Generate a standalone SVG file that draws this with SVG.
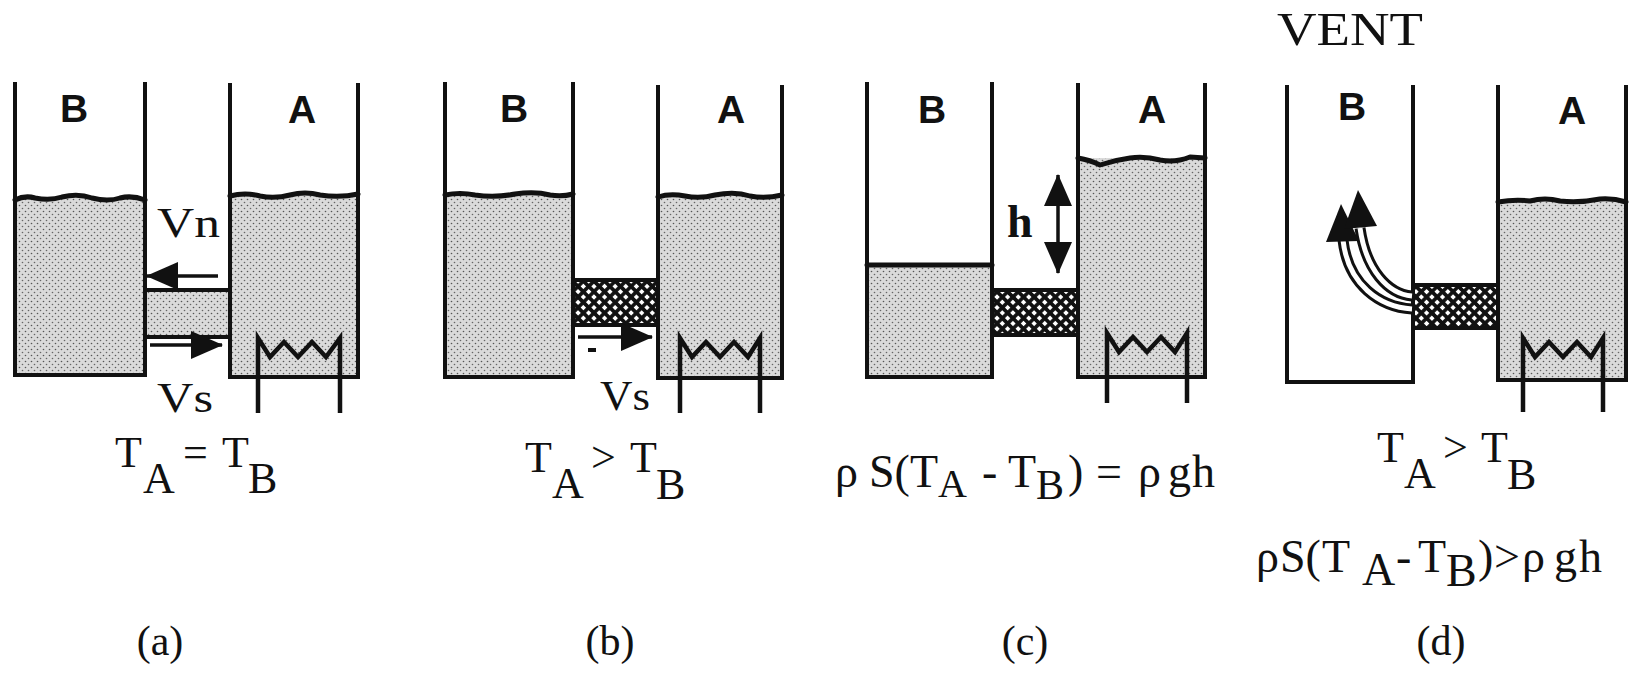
<svg xmlns="http://www.w3.org/2000/svg" width="1632" height="675" viewBox="0 0 1632 675">
<style>
.wall{fill:none;stroke:#111;stroke-width:4;stroke-linejoin:miter}
.surf{fill:none;stroke:#111;stroke-width:5;stroke-linejoin:round;stroke-linecap:round}
.liq{fill:url(#stip)}
.mesh{fill:url(#hatch)}
.edge{stroke:#111;stroke-width:4}
.heat{fill:none;stroke:#111;stroke-width:4.5;stroke-linejoin:miter}
.lbl{font-family:"Liberation Sans",Arial,sans-serif;font-weight:bold;font-size:39px;fill:#111}
.t{font-family:"Liberation Serif","Times New Roman",serif;fill:#111}
.arr{stroke:#111;stroke-width:3.5;fill:none}
.tube{fill:none;stroke:#111;stroke-width:11}
.tubein{fill:none;stroke:#fff;stroke-width:5}
</style>
<defs>
<pattern id="stip" width="6" height="6" patternUnits="userSpaceOnUse"><rect width="6" height="6" fill="#dadada"/><circle cx="1.5" cy="1.5" r="0.8" fill="#555"/><circle cx="4.5" cy="4.5" r="0.8" fill="#666"/></pattern>
<pattern id="hatch" width="7.5" height="7.5" patternUnits="userSpaceOnUse" patternTransform="rotate(45)"><rect width="7.5" height="7.5" fill="#fff"/><path d="M0 3.75H7.5M3.75 0V7.5" stroke="#111" stroke-width="3.6"/></pattern>
<marker id="ah" viewBox="0 0 32 28" refX="31" refY="14" markerWidth="32" markerHeight="28" markerUnits="userSpaceOnUse" orient="auto"><path d="M0 0L32 14L0 28z" fill="#111"/></marker>
</defs>
<rect width="1632" height="675" fill="#fff"/>

<g id="panel-a">
<rect class="liq" x="15" y="198" width="130" height="177"/>
<rect class="liq" x="230" y="195" width="128" height="182"/>
<rect class="liq" x="145" y="290" width="85" height="47"/>
<line class="edge" x1="145" y1="290" x2="230" y2="290"/>
<line class="edge" x1="145" y1="337" x2="230" y2="337"/>
<path class="surf" d="M15 200 Q25 195 35 198 Q50 201 62 197 Q78 193 92 198 Q108 202 120 198 Q132 195 145 200"/>
<path class="surf" d="M230 196 Q245 192 260 196 Q275 199 290 195 Q305 191 320 195 Q340 198 358 194"/>
<path class="wall" d="M15 82 V375 H145 V82"/>
<path class="wall" d="M230 83 V377 H358 V83"/>
<path class="heat" d="M258 413 V338 L270 357 L284 342 L298 357 L312 342 L326 357 L340 338 V413"/>
<text class="lbl" x="60" y="122">B</text>
<text class="lbl" x="288" y="123">A</text>
<text class="t" x="157" y="237" font-size="42" textLength="63" lengthAdjust="spacingAndGlyphs">Vn</text>
<text class="t" x="157" y="412" font-size="42" textLength="56" lengthAdjust="spacingAndGlyphs">Vs</text>
<text class="t" font-size="44"><tspan x="115" y="467">T</tspan><tspan x="143" y="493">A</tspan><tspan x="183" y="467">=</tspan><tspan x="222" y="467">T</tspan><tspan x="248" y="493">B</tspan></text>
<text class="t" x="160" y="655" font-size="42" text-anchor="middle">(a)</text>
</g>

<g id="panel-b">
<rect class="liq" x="445" y="194" width="128" height="183"/>
<rect class="liq" x="658" y="196" width="124" height="182"/>
<rect class="mesh" x="573" y="280" width="85" height="45"/>
<line class="edge" x1="573" y1="280" x2="658" y2="280"/>
<line class="edge" x1="573" y1="325" x2="658" y2="325"/>
<path class="surf" d="M445 195 Q460 192 475 195 Q495 198 515 194 Q535 191 550 195 Q562 197 573 194"/>
<path class="surf" d="M658 197 Q670 193 685 196 Q700 199 715 195 Q735 191 750 196 Q765 199 782 195"/>
<path class="wall" d="M445 82 V377 H573 V82"/>
<path class="wall" d="M658 85 V378 H782 V85"/>
<path class="heat" d="M680 413 V338 L692 357 L706 342 L720 357 L734 342 L748 357 L760 338 V413"/>
<text class="lbl" x="500" y="122">B</text>
<text class="lbl" x="717" y="123">A</text>
<line class="edge" x1="588" y1="350" x2="596" y2="350"/>
<text class="t" x="600" y="410" font-size="42" textLength="50" lengthAdjust="spacingAndGlyphs">Vs</text>
<text class="t" font-size="44"><tspan x="525" y="472">T</tspan><tspan x="552" y="498">A</tspan><tspan x="591" y="472">&gt;</tspan><tspan x="630" y="472">T</tspan><tspan x="656" y="499">B</tspan></text>
<text class="t" x="610" y="655" font-size="42" text-anchor="middle">(b)</text>
</g>

<g id="panel-c">
<rect class="liq" x="867" y="265" width="125" height="112"/>
<rect class="liq" x="1078" y="158" width="127" height="219"/>
<rect class="mesh" x="992" y="290" width="86" height="45"/>
<line class="edge" x1="992" y1="290" x2="1078" y2="290"/>
<line class="edge" x1="992" y1="335" x2="1078" y2="335"/>
<path class="surf" d="M867 265 H992"/>
<path class="surf" d="M1078 158 Q1090 160 1100 165 Q1115 160 1130 158 Q1145 156 1160 160 Q1175 163 1190 157 L1205 158"/>
<path class="wall" d="M867 82 V377 H992 V82"/>
<path class="wall" d="M1078 83 V377 H1205 V83"/>
<path class="heat" d="M1107 403 V333 L1119 352 L1133 337 L1147 352 L1161 337 L1175 352 L1187 333 V403"/>
<text class="lbl" x="918" y="123">B</text>
<text class="lbl" x="1138" y="123">A</text>
<text class="t" x="1007" y="237" font-size="46" font-weight="bold">h</text>
<text class="t" font-size="46"><tspan x="835" y="487">ρ</tspan><tspan x="869" y="487">S(</tspan><tspan x="910" y="487">T</tspan><tspan x="938" y="497" font-size="40">A</tspan><tspan x="982" y="487">-</tspan><tspan x="1008" y="487">T</tspan><tspan x="1036" y="499" font-size="42">B</tspan><tspan x="1068" y="487">)</tspan><tspan x="1096" y="487">=</tspan><tspan x="1138" y="487">ρ</tspan><tspan x="1168" y="487">g</tspan><tspan x="1192" y="487">h</tspan></text>
<text class="t" x="1025" y="655" font-size="42" text-anchor="middle">(c)</text>
</g>

<g id="panel-d">
<text class="t" x="1277" y="45" font-size="46" textLength="146" lengthAdjust="spacingAndGlyphs">VENT</text>
<rect class="liq" x="1498" y="201" width="128" height="179"/>
<rect class="mesh" x="1413" y="285" width="85" height="43"/>
<line class="edge" x1="1413" y1="285" x2="1498" y2="285"/>
<line class="edge" x1="1413" y1="328" x2="1498" y2="328"/>
<path class="surf" d="M1498 202 Q1515 199 1530 201 Q1545 197 1560 201 Q1580 203 1600 199 Q1613 198 1626 202"/>
<path class="wall" d="M1287 85 V382 H1413 V85"/>
<path class="wall" d="M1498 85 V380 H1626 V85"/>
<path class="heat" d="M1523 412 V338 L1535 357 L1549 342 L1563 357 L1577 342 L1591 357 L1603 338 V412"/>
<text class="lbl" x="1338" y="120">B</text>
<text class="lbl" x="1558" y="124">A</text>
<text class="t" font-size="44"><tspan x="1377" y="462">T</tspan><tspan x="1404" y="488">A</tspan><tspan x="1443" y="462">&gt;</tspan><tspan x="1481" y="462">T</tspan><tspan x="1507" y="489">B</tspan></text>
<text class="t" font-size="46"><tspan x="1256" y="572">ρ</tspan><tspan x="1280" y="572">S(</tspan><tspan x="1322" y="572">T</tspan><tspan x="1362" y="585">A</tspan><tspan x="1396" y="572">-</tspan><tspan x="1418" y="572">T</tspan><tspan x="1446" y="586">B</tspan><tspan x="1478" y="572">)</tspan><tspan x="1494" y="572">&gt;</tspan><tspan x="1522" y="572">ρ</tspan><tspan x="1554" y="572">g</tspan><tspan x="1579" y="572">h</tspan></text>
<text class="t" x="1441" y="655" font-size="42" text-anchor="middle">(d)</text>
</g>

<g id="connectors">
<line class="arr" x1="218" y1="276" x2="147" y2="276" marker-end="url(#ah)"/>
<line class="arr" x1="150" y1="345" x2="222" y2="345" marker-end="url(#ah)"/>
<line class="arr" x1="578" y1="337" x2="652" y2="337" marker-end="url(#ah)"/>
<line class="arr" x1="1058" y1="224" x2="1058" y2="175" marker-end="url(#ah)"/>
<line class="arr" x1="1058" y1="224" x2="1058" y2="273" marker-end="url(#ah)"/>
<path class="tube" d="M1412 309 C1380 307 1348 285 1343 240"/>
<path class="tubein" d="M1412 309 C1380 307 1348 285 1343 240"/>
<path class="tube" d="M1412 296 C1388 294 1366 270 1360 228"/>
<path class="tubein" d="M1412 296 C1388 294 1366 270 1360 228"/>
<path d="M1341 204 L1326 242 L1359 241 Z" fill="#111"/>
<path d="M1358 190 L1344 229 L1377 226 Z" fill="#111"/>
</g>
</svg>
